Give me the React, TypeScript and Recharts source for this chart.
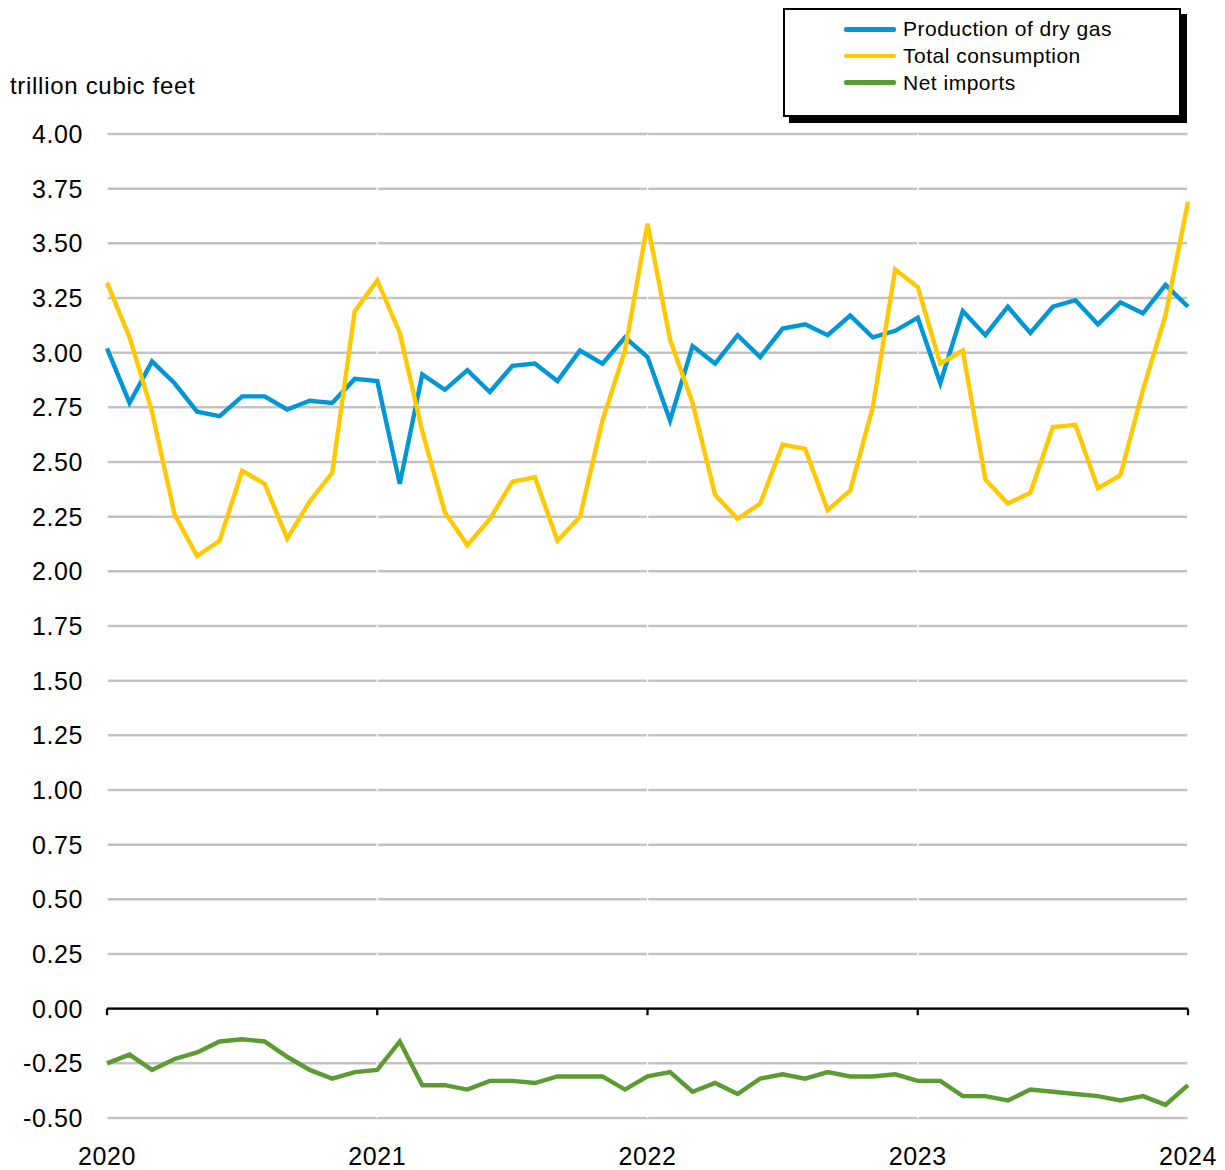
import React from 'react';
import { LineChart, Line, XAxis, YAxis, CartesianGrid, ReferenceLine, Legend } from 'recharts';

const months = [
  '2020-01','2020-02','2020-03','2020-04','2020-05','2020-06','2020-07','2020-08','2020-09','2020-10','2020-11','2020-12',
  '2021-01','2021-02','2021-03','2021-04','2021-05','2021-06','2021-07','2021-08','2021-09','2021-10','2021-11','2021-12',
  '2022-01','2022-02','2022-03','2022-04','2022-05','2022-06','2022-07','2022-08','2022-09','2022-10','2022-11','2022-12',
  '2023-01','2023-02','2023-03','2023-04','2023-05','2023-06','2023-07','2023-08','2023-09','2023-10','2023-11','2023-12',
  '2024-01',
];

const production = [
  3.02, 2.77, 2.96, 2.86, 2.73, 2.71, 2.80, 2.80, 2.74, 2.78, 2.77, 2.88,
  2.87, 2.40, 2.90, 2.83, 2.92, 2.82, 2.94, 2.95, 2.87, 3.01, 2.95, 3.07,
  2.98, 2.69, 3.03, 2.95, 3.08, 2.98, 3.11, 3.13, 3.08, 3.17, 3.07, 3.10,
  3.16, 2.86, 3.19, 3.08, 3.21, 3.09, 3.21, 3.24, 3.13, 3.23, 3.18, 3.31,
  3.21,
];

const consumption = [
  3.32, 3.07, 2.73, 2.26, 2.07, 2.14, 2.46, 2.40, 2.15, 2.32, 2.45, 3.19,
  3.33, 3.09, 2.64, 2.27, 2.12, 2.24, 2.41, 2.43, 2.14, 2.25, 2.69, 3.01,
  3.59, 3.06, 2.77, 2.35, 2.24, 2.31, 2.58, 2.56, 2.28, 2.37, 2.75, 3.38,
  3.30, 2.95, 3.01, 2.42, 2.31, 2.36, 2.66, 2.67, 2.38, 2.44, 2.83, 3.17,
  3.69,
];

const netImports = [
  -0.25, -0.21, -0.28, -0.23, -0.20, -0.15, -0.14, -0.15, -0.22, -0.28, -0.32, -0.29,
  -0.28, -0.15, -0.35, -0.35, -0.37, -0.33, -0.33, -0.34, -0.31, -0.31, -0.31, -0.37,
  -0.31, -0.29, -0.38, -0.34, -0.39, -0.32, -0.30, -0.32, -0.29, -0.31, -0.31, -0.30,
  -0.33, -0.33, -0.40, -0.40, -0.42, -0.37, -0.38, -0.39, -0.40, -0.42, -0.40, -0.44,
  -0.35,
];

const yearLabels = ['2020', '2021', '2022', '2023', '2024'];
const yTicks = [4, 3.75, 3.5, 3.25, 3, 2.75, 2.5, 2.25, 2, 1.75, 1.5, 1.25, 1, 0.75, 0.5, 0.25, 0, -0.25, -0.5];

const seriesInfo = [
  { key: 'production', name: 'Production of dry gas', color: '#0097d7' },
  { key: 'consumption', name: 'Total consumption', color: '#ffc800' },
  { key: 'netImports', name: 'Net imports', color: '#5b9b32' },
];

const data = months.map((m, i) => ({
  i,
  month: m,
  production: production[i],
  consumption: consumption[i],
  netImports: netImports[i],
}));

const yearIdx = yearLabels.map((y) => months.indexOf(`${y}-01`));
const TICK_LEN = 0.03;

const FONT = '"Liberation Sans", Arial, sans-serif';

const LegendBox = () => (
  <div
    style={{
      width: 398,
      height: 109,
      boxSizing: 'border-box',
      border: '2px solid #000',
      background: '#fff',
      boxShadow: '6px 6px 0 #000',
      paddingTop: 6,
      fontFamily: FONT,
      fontSize: 21,
      letterSpacing: 0.5,
      color: '#000',
    }}
  >
    {seriesInfo.map((s) => (
      <div key={s.key} style={{ display: 'flex', alignItems: 'center', height: 26.7 }}>
        <div style={{ width: 52, height: 4.5, background: s.color, marginLeft: 59, marginRight: 7, borderRadius: 2 }} />
        <span style={{ lineHeight: '26px' }}>{s.name}</span>
      </div>
    ))}
  </div>
);

export default function App() {
  return (
    <div style={{ position: 'absolute', left: 0, top: 0, width: 1225, height: 1170, background: '#fff' }}>
      <div
        style={{
          position: 'absolute',
          left: 10,
          top: 73.5,
          fontFamily: FONT,
          fontSize: 24,
          lineHeight: '24px',
          letterSpacing: 0.7,
          color: '#000',
          whiteSpace: 'nowrap',
        }}
      >
        trillion cubic feet
      </div>
      <LineChart
        width={1225}
        height={1170}
        data={data}
        margin={{ top: 134, right: 37, bottom: 0, left: 0 }}
        style={{ fontFamily: FONT }}
      >
        <CartesianGrid horizontal vertical={false} stroke="#c3c3c3" strokeWidth={2.5} />
        <CartesianGrid horizontal={false} vertical stroke="#ffffff" strokeWidth={1.5} />
        <XAxis
          type="number"
          dataKey="i"
          domain={[0, months.length - 1]}
          ticks={yearIdx}
          interval={0}
          tickFormatter={(v: number) => months[v].slice(0, 4)}
          axisLine={false}
          tickLine={false}
          tickSize={0}
          tickMargin={29}
          height={52}
          tick={{ fill: '#000', fontSize: 25, letterSpacing: 0.6 }}
        />
        <YAxis
          type="number"
          domain={[-0.5, 4]}
          ticks={yTicks}
          interval={0}
          tickFormatter={(v: number) => v.toFixed(2)}
          axisLine={false}
          tickLine={false}
          tickSize={0}
          tickMargin={24}
          width={107}
          tick={{ fill: '#000', fontSize: 25, letterSpacing: 0.6 }}
        />
        <ReferenceLine y={0} stroke="#000" strokeWidth={2.3} />
        {yearIdx.map((x) => (
          <ReferenceLine
            key={x}
            segment={[{ x, y: 0 }, { x, y: -TICK_LEN }]}
            stroke="#000"
            strokeWidth={2.3}
          />
        ))}
        {seriesInfo.map((s) => (
          <Line
            key={s.key}
            type="linear"
            dataKey={s.key}
            name={s.name}
            stroke={s.color}
            strokeWidth={4.4}
            dot={false}
            activeDot={false}
            isAnimationActive={false}
          />
        ))}
        <Legend
          layout="vertical"
          align="center"
          verticalAlign="middle"
          wrapperStyle={{ left: 783, top: 8, width: 398, height: 109 }}
          content={() => <LegendBox />}
        />
      </LineChart>
    </div>
  );
}
